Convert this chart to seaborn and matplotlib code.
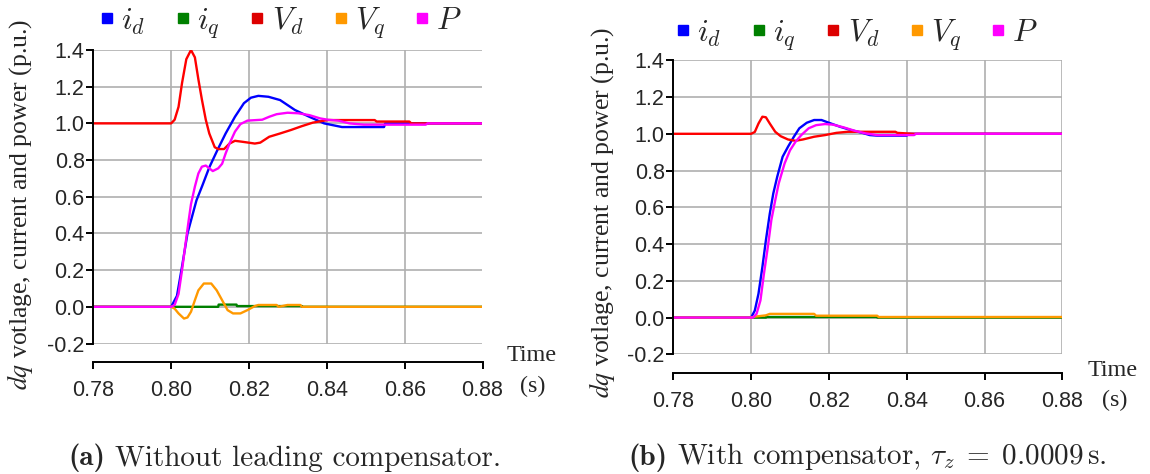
import numpy as np
import pandas as pd
import matplotlib
matplotlib.use("Agg")
import matplotlib.pyplot as plt
from matplotlib.lines import Line2D
from matplotlib.font_manager import FontProperties
import seaborn as sns

# signal names, legend labels and colours
SIGNALS = ["id", "iq", "Vd", "Vq", "P"]
LABELS = [r"$i_d$", r"$i_q$", r"$V_d$", r"$V_q$", r"$P$"]
COLORS = ["#0000FF", "#008000", "#FF0000", "#FF9900", "#FF00FF"]
LEGEND_COLORS = ["#0000FF", "#008000", "#DD0000", "#FF9900", "#FF00FF"]

XTICKS = [0.78, 0.80, 0.82, 0.84, 0.86, 0.88]
YTICKS = [-0.2, 0.0, 0.2, 0.4, 0.6, 0.8, 1.0, 1.2, 1.4]

# ---- (a) without leading compensator ----
t_id_a = [0.780, 0.800, 0.8015, 0.8028, 0.8042, 0.8065, 0.8080, 0.8098, 0.8119, 0.8140,
          0.8164, 0.8187, 0.8205, 0.8224, 0.8250, 0.8280, 0.8318, 0.8355, 0.8393, 0.8439,
          0.8547, 0.8550, 0.880]
v_id_a = [0.0, 0.0, 0.06, 0.22, 0.40, 0.58, 0.66, 0.76, 0.855, 0.945,
          1.036, 1.11, 1.14, 1.15, 1.145, 1.127, 1.073, 1.036, 1.0, 0.98,
          0.98, 1.0, 1.0]

t_iq_a = [0.780, 0.8121, 0.8122, 0.8168, 0.8169, 0.8336, 0.8337, 0.880]
v_iq_a = [0.0, 0.0, 0.012, 0.012, 0.004, 0.004, 0.0, 0.0]

t_vd_a = [0.780, 0.800, 0.8009, 0.8019, 0.8028, 0.8039, 0.8051, 0.8061, 0.8070, 0.8079,
          0.8089, 0.8098, 0.8112, 0.8121, 0.8136, 0.8150, 0.8164, 0.8182, 0.8215, 0.8229,
          0.8252, 0.8280, 0.8308, 0.8336, 0.8364, 0.8402, 0.8523, 0.8528, 0.8612, 0.8617,
          0.880]
v_vd_a = [1.0, 1.0, 1.02, 1.09, 1.22, 1.35, 1.40, 1.36, 1.24, 1.13,
          1.02, 0.945, 0.87, 0.86, 0.86, 0.89, 0.905, 0.90, 0.89, 0.895,
          0.927, 0.945, 0.964, 0.985, 1.004, 1.018, 1.018, 1.01, 1.01, 1.0,
          1.0]

t_vq_a = [0.780, 0.800, 0.8009, 0.8019, 0.8033, 0.8042, 0.8051, 0.8061, 0.8070, 0.8084,
          0.8103, 0.8117, 0.8131, 0.8145, 0.8159, 0.8178, 0.8196, 0.8215, 0.8224, 0.8271,
          0.8276, 0.8299, 0.8332, 0.8336, 0.880]
v_vq_a = [0.0, 0.0, -0.01, -0.036, -0.064, -0.058, -0.027, 0.036, 0.09, 0.127,
          0.127, 0.09, 0.036, -0.018, -0.036, -0.036, -0.018, 0.004, 0.01, 0.01,
          0.0, 0.01, 0.01, 0.0, 0.0]

t_p_a = [0.780, 0.800, 0.8009, 0.8019, 0.8028, 0.8037, 0.8045, 0.8051, 0.8061, 0.8070,
         0.8079, 0.8089, 0.8098, 0.8107, 0.8121, 0.8131, 0.8140, 0.8150, 0.8164, 0.8178,
         0.8196, 0.8234, 0.8252, 0.8271, 0.8299, 0.8327, 0.8355, 0.8383, 0.8402, 0.8430,
         0.8458, 0.8495, 0.8654, 0.8659, 0.880]
v_p_a = [0.0, 0.0, 0.01, 0.07, 0.20, 0.345, 0.47, 0.56, 0.655, 0.727,
         0.764, 0.77, 0.755, 0.74, 0.755, 0.78, 0.836, 0.89, 0.955, 0.996,
         1.015, 1.02, 1.036, 1.05, 1.058, 1.055, 1.045, 1.027, 1.02, 1.015,
         1.0, 0.993, 0.993, 1.0, 1.0]

# ---- (b) with compensator ----
t_id_b = [0.780, 0.800, 0.80095, 0.8019, 0.8029, 0.8038, 0.8048, 0.8057, 0.8067, 0.8081,
          0.8095, 0.8110, 0.8124, 0.8143, 0.8162, 0.8181, 0.8200, 0.8229, 0.8257, 0.8286,
          0.8305, 0.8324, 0.8400, 0.8405, 0.880]
v_id_b = [0.0, 0.0, 0.038, 0.13, 0.275, 0.42, 0.565, 0.675, 0.765, 0.875,
          0.93, 0.984, 1.03, 1.06, 1.075, 1.075, 1.06, 1.038, 1.02, 1.005,
          0.993, 0.99, 0.99, 1.0, 1.0]

t_iq_b = [0.780, 0.8038, 0.8039, 0.8324, 0.8325, 0.880]
v_iq_b = [0.0, 0.0, 0.003, 0.003, 0.0, 0.0]

t_vd_b = [0.780, 0.800, 0.80095, 0.8019, 0.8029, 0.8038, 0.8048, 0.8062, 0.8076, 0.8095,
          0.8114, 0.8133, 0.8162, 0.8190, 0.8219, 0.8248, 0.8371, 0.8376, 0.8419, 0.880]
v_vd_b = [1.0, 1.0, 1.01, 1.056, 1.093, 1.09, 1.056, 1.011, 0.987, 0.969,
          0.962, 0.969, 0.984, 0.993, 1.005, 1.011, 1.011, 1.005, 1.0, 1.0]

t_vq_b = [0.780, 0.800, 0.8010, 0.8038, 0.8048, 0.8162, 0.8167, 0.8324, 0.8328, 0.880]
v_vq_b = [0.0, 0.0, 0.005, 0.012, 0.02, 0.02, 0.01, 0.01, 0.003, 0.003]

t_p_b = [0.780, 0.8005, 0.8014, 0.8024, 0.8033, 0.8043, 0.8052, 0.8062, 0.8071, 0.8086,
         0.8100, 0.8114, 0.8129, 0.8148, 0.8167, 0.8190, 0.8210, 0.8238, 0.8267, 0.8295,
         0.8324, 0.8419, 0.8424, 0.880]
v_p_b = [0.0, 0.0, 0.02, 0.093, 0.238, 0.384, 0.53, 0.638, 0.73, 0.838,
         0.91, 0.956, 0.993, 1.03, 1.047, 1.053, 1.05, 1.035, 1.016, 1.002,
         0.993, 0.993, 1.0, 1.0]


def make_frame(series):
    parts = []
    for name, (t, v) in zip(SIGNALS, series):
        parts.append(pd.DataFrame({"t": t, "v": v, "signal": name}))
    return pd.concat(parts, ignore_index=True)


W, H = 1150, 474


def fx(px):
    return px / W


def fy(py):
    return 1 - py / H


def draw_panel(fig, box, frame, spine_off, legend_xy, ylabel_xy, time_xy, s_xy,
               cap_tag, cap_text, cap_xy):
    # box is (left, top, right, bottom) in pixels from the top-left corner
    x0, y0, x1, y1 = box
    ax = fig.add_axes([fx(x0), fy(y1), (x1 - x0) / W, (y1 - y0) / H])
    sns.lineplot(data=frame, x="t", y="v", hue="signal", hue_order=SIGNALS,
                 palette=COLORS, estimator=None, sort=False, lw=1.7,
                 legend=False, ax=ax)
    ax.set_xlim(0.78, 0.88)
    ax.set_ylim(-0.2, 1.4)
    ax.set_xticks(XTICKS)
    ax.set_xticklabels([f"{x:.2f}" for x in XTICKS])
    ax.set_yticks(YTICKS)
    ax.set_yticklabels([f"{y:.1f}" for y in YTICKS])
    ax.set_xlabel("")
    ax.set_ylabel("")
    ax.grid(True, color="#AFAFAF", lw=1.2)
    ax.set_axisbelow(True)
    for side in ["top", "right"]:
        ax.spines[side].set_visible(False)
    for side in ["left", "bottom"]:
        ax.spines[side].set_color("black")
        ax.spines[side].set_linewidth(1.4)
    # the time axis sits detached below the plot area
    ax.spines["bottom"].set_position(("outward", spine_off))
    ax.tick_params(axis="both", direction="out", length=5.2, width=1.4, color="black",
                   labelsize=15.5, bottom=True, left=True)
    ax.tick_params(axis="x", pad=8)
    ax.tick_params(axis="y", pad=1)
    for lab in ax.get_xticklabels() + ax.get_yticklabels():
        lab.set_fontfamily("Liberation Sans")

    handles = [Line2D([0], [0], marker="s", ls="", color=c, markersize=7.5)
               for c in LEGEND_COLORS]
    ax.legend(handles, LABELS, ncol=5, loc="center",
              bbox_to_anchor=(fx(legend_xy[0]), fy(legend_xy[1])),
              bbox_transform=fig.transFigure, frameon=False,
              prop=FontProperties(size=22.5, math_fontfamily="cm"),
              handlelength=0.6, handletextpad=0.15, columnspacing=0.9,
              borderpad=0, borderaxespad=0)

    fig.text(fx(ylabel_xy[0]), fy(ylabel_xy[1]), r"$dq$ votlage, current and power (p.u.)",
             rotation=90, ha="center", va="center", fontsize=18.5,
             family="Liberation Serif", math_fontfamily="stix")
    fig.text(fx(time_xy[0]), fy(time_xy[1]), "Time", ha="left", va="baseline",
             fontsize=17.4, family="Liberation Serif")
    fig.text(fx(s_xy[0]), fy(s_xy[1]), "(s)", ha="left", va="center",
             fontsize=17.4, family="Liberation Serif")

    # caption: bold tag followed by the roman text
    tag = fig.text(fx(cap_xy[0]), fy(cap_xy[1]), cap_tag, ha="left", va="baseline",
                   fontsize=21, family="cmb10")
    ax.annotate(cap_text, xy=(1, 0), xycoords=tag, xytext=(7, 0),
                textcoords="offset points", ha="left", va="bottom",
                fontsize=21, family="cmr10", math_fontfamily="cm",
                annotation_clip=False)
    return ax


sns.set_style("white")
plt.rcParams["font.family"] = ["Liberation Sans", "DejaVu Sans"]
plt.rcParams["axes.unicode_minus"] = False

fig = plt.figure(figsize=(W / 100, H / 100), dpi=100)

frame_a = make_frame([(t_id_a, v_id_a), (t_iq_a, v_iq_a), (t_vd_a, v_vd_a),
                      (t_vq_a, v_vq_a), (t_p_a, v_p_a)])
frame_b = make_frame([(t_id_b, v_id_b), (t_iq_b, v_iq_b), (t_vd_b, v_vd_b),
                      (t_vq_b, v_vq_b), (t_p_b, v_p_b)])

draw_panel(fig, (93.3, 50.0, 482.5, 343.5), frame_a, 13.3,
           (280, 23), (20, 204.5), (507, 361), (520, 386),
           "(a)", "Without leading compensator.", (68, 465))
draw_panel(fig, (673.3, 60.3, 1062.3, 354.3), frame_b, 13.2,
           (856, 35), (602, 212.5), (1088, 376), (1102, 400),
           "(b)", r"With compensator, $\tau_z \;=\; 0.0009\,$s.", (628, 465))

fig.savefig("out.png", dpi=100)
